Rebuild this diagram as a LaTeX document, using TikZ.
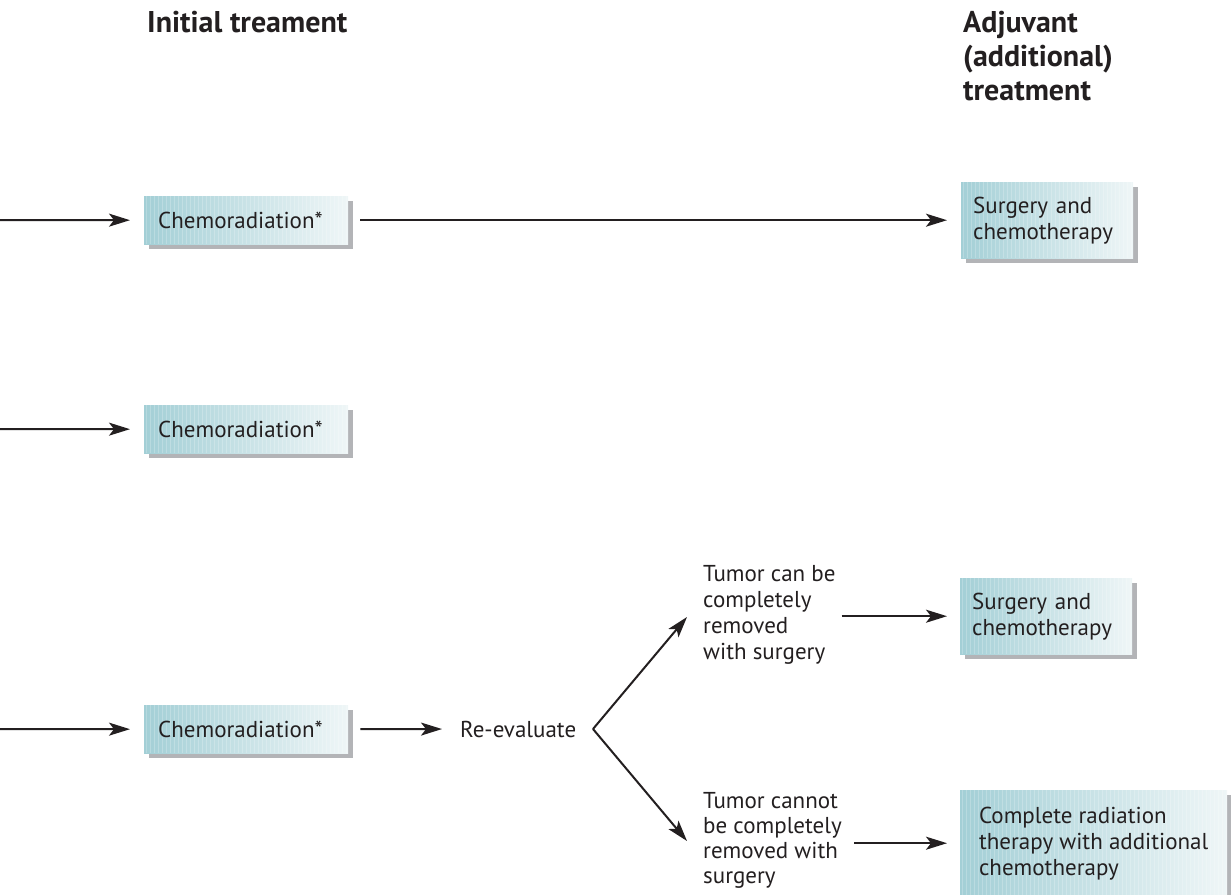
\documentclass[tikz,border=0pt]{standalone}
\usepackage{fontspec}
\setmainfont{PT Sans}
\usetikzlibrary{arrows.meta,shadows}

\definecolor{tealL}{HTML}{A3CFD6}
\definecolor{tealR}{HTML}{EFF6F7}
\definecolor{boxshade}{HTML}{B3B4B7}
\definecolor{ink}{HTML}{231F20}

\tikzset{
  box/.style={anchor=north west, left color=tealL, right color=tealR, draw=none,
    inner xsep=14pt, inner ysep=0pt, align=left, text=ink,
    font=\fontsize{23}{26}\selectfont,
    drop shadow={shadow xshift=5pt, shadow yshift=-5pt, fill=boxshade, opacity=1},
    path picture={
      \foreach \i in {2,6,...,290}
        \draw[white, opacity=0.22, line width=0.9pt]
          ([xshift=\i pt]path picture bounding box.north west) --
          ([xshift=\i pt]path picture bounding box.south west);
    }},
  label/.style={inner sep=0pt, align=left, text=ink, font=\fontsize{23}{26}\selectfont},
  head/.style={inner sep=0pt, align=left, text=ink, font=\bfseries\fontsize{30}{34}\selectfont},
  arr/.style={draw=ink, line width=2pt, -{Stealth[length=21pt, width=13pt, inset=5pt]}}
}

\begin{document}
\begin{tikzpicture}[x=1pt, y=-1pt]
  \useasboundingbox (0,0) rectangle (1231,894);
  \clip (0,0) rectangle (1231,894);

  % column headings (positioned by the baseline of their last line)
  \node[head, anchor=base west] (hInit) at (147,32) {Initial treament};
  \node[head, anchor=base west] (hAdj) at (963,100) {Adjuvant\\(additional)\\treatment};

  % row 1
  \coordinate (in1) at (0,220);
  \node[box, minimum width=204pt, minimum height=48pt, text width=176pt] (c1) at (144,196) {Chemoradiation*};
  \node[box, inner xsep=12pt, minimum width=172pt, minimum height=76pt, text width=148pt] (s1) at (961,182) {Surgery and\\chemotherapy};

  % row 2
  \coordinate (in2) at (0,429);
  \node[box, minimum width=204pt, minimum height=48pt, text width=176pt] (c2) at (144,405) {Chemoradiation*};

  % row 3
  \coordinate (in3) at (0,729);
  \node[box, minimum width=204pt, minimum height=48pt, text width=176pt] (c3) at (144,705) {Chemoradiation*};
  \node[label, anchor=west] (re) at (460,729) {Re-evaluate};
  \coordinate (fork) at (593,729);
  \coordinate (tipUp) at (687,617);
  \coordinate (tipDn) at (687,841);
  \node[label, anchor=base west] (can) at (703,659) {Tumor can be\\completely\\removed\\with surgery};
  \node[label, anchor=base west, font=\fontsize{23}{25}\selectfont] (cannot) at (703,883) {Tumor cannot\\be completely\\removed with\\surgery};
  \node[box, inner xsep=12pt, minimum width=172pt, minimum height=76pt, text width=148pt] (s2) at (960,578) {Surgery and\\chemotherapy};
  \node[box, inner xsep=13pt, minimum width=267pt, minimum height=106pt] (rt) at (960,790) {Complete radiation\\therapy with additional\\chemotherapy};

  % connectors
  \draw[arr, shorten >=14pt] (in1) -- (c1.west);
  \draw[arr, shorten <=12pt, shorten >=14pt] (c1.east) -- (s1.west |- c1.east);
  \draw[arr, shorten >=14pt] (in2) -- (c2.west);
  \draw[arr, shorten >=14pt] (in3) -- (c3.west);
  \draw[arr, shorten <=12pt, shorten >=18pt] (c3.east) -- (re.west);
  \draw[arr] (fork) -- (tipUp);
  \draw[arr] (fork) -- (tipDn);
  \draw[arr, shorten <=6pt, shorten >=13pt] (can.east |- s2.west) -- (s2.west);
  \draw[arr, shorten <=12pt, shorten >=13pt] (cannot.east |- rt.west) -- (rt.west);
\end{tikzpicture}
\end{document}
